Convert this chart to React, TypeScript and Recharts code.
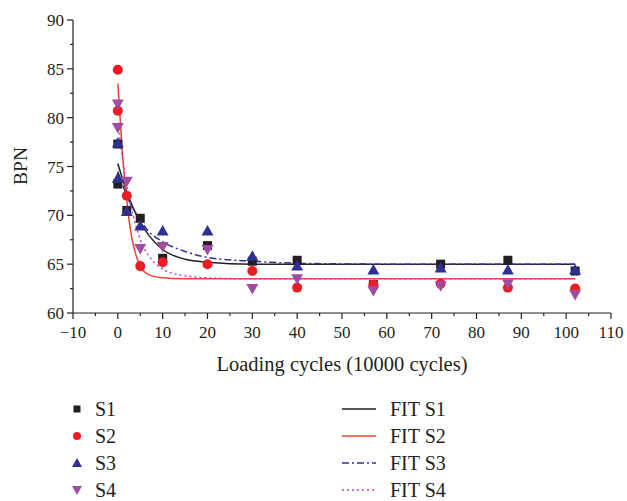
import React from "react";
import { ComposedChart, Scatter, Line, XAxis, YAxis } from "recharts";

// measured points (x in 10000 cycles), two readings at x = 0
const loadX = [0, 0, 2, 5, 10, 20, 30, 40, 57, 72, 87, 102];
const s1 = [77.3, 73.2, 70.5, 69.7, 65.6, 66.9, 65.3, 65.4, 62.9, 65.0, 65.4, 64.3];
const s2 = [84.9, 80.7, 72.0, 64.8, 65.2, 65.0, 64.3, 62.6, 62.9, 63.0, 62.6, 62.5];
const s3 = [77.4, 73.8, 70.4, 68.9, 68.4, 68.4, 65.8, 64.8, 64.4, 64.6, 64.4, 64.4];
const s4 = [81.4, 79.0, 73.5, 66.6, 66.8, 66.5, 62.5, 63.5, 62.3, 62.8, 63.0, 61.9];

// fitted curves
const fitX = [0, 1, 2, 3, 4, 5, 7, 10, 15, 20, 30, 40, 60, 102];
const fit1 = [75.3, 73.8, 72.4, 71.2, 70.2, 69.3, 67.9, 66.5, 65.5, 65.2, 65.0, 65.0, 65.0, 65.0];
const fit2 = [83.5, 76.5, 71.5, 68.0, 66.0, 64.8, 63.9, 63.6, 63.5, 63.5, 63.5, 63.5, 63.5, 63.5];
const fit3 = [74.5, 73.2, 72.0, 71.0, 70.2, 69.5, 68.3, 67.3, 66.3, 65.7, 65.3, 65.1, 65.0, 65.0];
const fit4 = [79.5, 76.0, 73.0, 70.8, 69.0, 67.5, 65.8, 64.5, 63.8, 63.6, 63.5, 63.5, 63.5, 63.5];

const xTicks = [-10, -5, 0, 5, 10, 15, 20, 25, 30, 35, 40, 45, 50, 55, 60, 65, 70, 75, 80, 85, 90, 95, 100, 105, 110];
const yTicks = [60, 62.5, 65, 67.5, 70, 72.5, 75, 77.5, 80, 82.5, 85, 87.5, 90];

const FONT = "'Liberation Serif', 'DejaVu Serif', serif";
const INK = "#231f20";
const RED = "#ed1c24";
const NAVY = "#2e3192";
const PURPLE = "#a04ca2";

const pts = (xs: number[], ys: number[]) => xs.map((x, i) => ({ x, y: ys[i] }));

const Square = ({ cx, cy }: any) => <rect x={cx - 4.5} y={cy - 4.5} width={9} height={9} fill={INK} />;
const Dot = ({ cx, cy }: any) => <circle cx={cx} cy={cy} r={5} fill={RED} />;
const TriUp = ({ cx, cy }: any) => (
  <polygon points={`${cx},${cy - 6} ${cx - 6},${cy + 4.5} ${cx + 6},${cy + 4.5}`} fill={NAVY} />
);
const TriDown = ({ cx, cy }: any) => (
  <polygon points={`${cx},${cy + 6} ${cx - 6},${cy - 4.5} ${cx + 6},${cy - 4.5}`} fill={PURPLE} />
);

const XTick = ({ x, y, payload }: any) => {
  const v = payload.value;
  const major = v % 10 === 0;
  return (
    <g>
      <line x1={x} x2={x} y1={y} y2={y + (major ? 6 : 3)} stroke={INK} strokeWidth={1.2} />
      {major && (
        <text x={x} y={y + 25} textAnchor="middle" fontFamily={FONT} fontSize={17} fill={INK}>
          {v < 0 ? "\u2212" + Math.abs(v) : v}
        </text>
      )}
    </g>
  );
};

const YTick = ({ x, y, payload }: any) => {
  const v = payload.value;
  const major = v % 5 === 0;
  return (
    <g>
      <line x1={x} x2={x - (major ? 6 : 3)} y1={y} y2={y} stroke={INK} strokeWidth={1.2} />
      {major && (
        <text x={x - 9} y={y + 6} textAnchor="end" fontFamily={FONT} fontSize={17} fill={INK}>
          {v}
        </text>
      )}
    </g>
  );
};

const legendRows = [
  { label: "S1", fit: "FIT S1", y: 409, color: INK, dash: undefined, marker: "square" },
  { label: "S2", fit: "FIT S2", y: 436, color: "#ef4136", dash: undefined, marker: "dot" },
  { label: "S3", fit: "FIT S3", y: 463, color: NAVY, dash: "7 3 2 3", marker: "up" },
  { label: "S4", fit: "FIT S4", y: 490, color: "#c040c8", dash: "2 3", marker: "down" },
];

function LegendMarker({ kind, cx, cy }: { kind: string; cx: number; cy: number }) {
  if (kind === "square") return <rect x={cx - 3.5} y={cy - 3.5} width={7} height={7} fill={INK} />;
  if (kind === "dot") return <circle cx={cx} cy={cy} r={4} fill={RED} />;
  if (kind === "up")
    return <polygon points={`${cx},${cy - 5} ${cx - 5},${cy + 4} ${cx + 5},${cy + 4}`} fill={NAVY} />;
  return <polygon points={`${cx},${cy + 5} ${cx - 5},${cy - 4} ${cx + 5},${cy - 4}`} fill={PURPLE} />;
}

export default function App() {
  return (
    <div style={{ position: "absolute", left: 0, top: 0, width: 627, height: 501, background: "#fff" }}>
      <ComposedChart width={627} height={380} margin={{ top: 20, right: 16, bottom: 7, left: 0 }}>
        <XAxis
          type="number"
          dataKey="x"
          domain={[-10, 110]}
          ticks={xTicks}
          interval={0}
          tick={<XTick />}
          tickLine={false}
          tickSize={0}
          tickMargin={0}
          height={60}
          axisLine={{ stroke: INK, strokeWidth: 1.2 }}
          label={{
            content: () => (
              <text x={342} y={371} textAnchor="middle" fontFamily={FONT} fontSize={20.5} fill={INK}>
                Loading cycles (10000 cycles)
              </text>
            ),
          }}
        />
        <YAxis
          type="number"
          dataKey="y"
          domain={[60, 90]}
          ticks={yTicks}
          interval={0}
          tick={<YTick />}
          tickLine={false}
          tickSize={0}
          tickMargin={0}
          width={73}
          axisLine={{ stroke: INK, strokeWidth: 1.2 }}
          label={{
            content: () => (
              <text x={0} y={0} transform="translate(27 166) rotate(-90)" textAnchor="middle" fontFamily={FONT} fontSize={19.5} fill={INK}>
                BPN
              </text>
            ),
          }}
        />
        <Line data={pts(fitX, fit1)} dataKey="y" type="monotone" stroke={INK} strokeWidth={1.5} dot={false} isAnimationActive={false} />
        <Line data={pts(fitX, fit2)} dataKey="y" type="monotone" stroke="#ef4136" strokeWidth={1.5} dot={false} isAnimationActive={false} />
        <Line data={pts(fitX, fit3)} dataKey="y" type="monotone" stroke={NAVY} strokeWidth={1.5} strokeDasharray="7 3 2 3" dot={false} isAnimationActive={false} />
        <Line data={pts(fitX, fit4)} dataKey="y" type="monotone" stroke="#c040c8" strokeWidth={1.5} strokeDasharray="2 3" dot={false} isAnimationActive={false} />
        <Scatter data={pts(loadX, s1)} dataKey="y" shape={<Square />} isAnimationActive={false} />
        <Scatter data={pts(loadX, s2)} dataKey="y" shape={<Dot />} isAnimationActive={false} />
        <Scatter data={pts(loadX, s3)} dataKey="y" shape={<TriUp />} isAnimationActive={false} />
        <Scatter data={pts(loadX, s4)} dataKey="y" shape={<TriDown />} isAnimationActive={false} />
      </ComposedChart>
      <svg width={627} height={121} style={{ position: "absolute", left: 0, top: 380 }}>
        {legendRows.map((r) => (
          <g key={r.label}>
            <LegendMarker kind={r.marker} cx={77} cy={r.y - 380} />
            <text x={95} y={r.y - 380 + 7} fontFamily={FONT} fontSize={20} fill={INK}>
              {r.label}
            </text>
            <line x1={342} x2={376} y1={r.y - 380} y2={r.y - 380} stroke={r.color} strokeWidth={1.5} strokeDasharray={r.dash} />
            <text x={390} y={r.y - 380 + 7} fontFamily={FONT} fontSize={20} fill={INK}>
              {r.fit}
            </text>
          </g>
        ))}
      </svg>
    </div>
  );
}
